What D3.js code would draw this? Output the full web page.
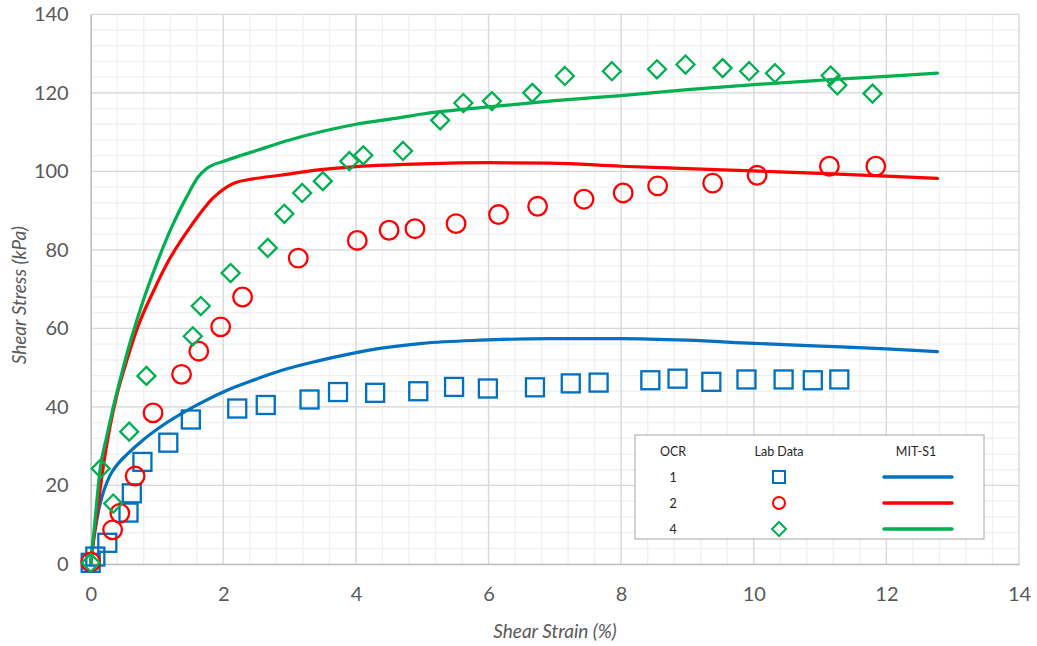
<!DOCTYPE html>
<html><head><meta charset="utf-8">
<script src="https://cdn.jsdelivr.net/npm/d3@7"></script>
<style>
html,body{margin:0;padding:0;background:#fff;}
text{font-family:Lato,"Open Sans",sans-serif;}
</style></head>
<body>
<svg id="chart" width="1037" height="646"></svg>
<script>
// ---- Data ----
const xTicks = [0, 2, 4, 6, 8, 10, 12, 14];
const yTicks = [0, 20, 40, 60, 80, 100, 120, 140];
const ocrLabels = ["1", "2", "4"];
const legendHeaders = ["OCR", "Lab Data", "MIT-S1"];

// Lab data (strain %, stress kPa)
const lab1 = [[0,0.3],[0.07,1.9],[0.25,5.4],[0.57,13.1],[0.62,18],[0.78,26],[1.17,30.9],[1.51,36.8],[2.21,39.6],[2.64,40.5],[3.30,41.9],[3.73,43.8],[4.29,43.6],[4.94,44.0],[5.48,45.1],[5.99,44.7],[6.70,45.0],[7.24,46.0],[7.66,46.2],[8.44,46.8],[8.85,47.2],[9.36,46.4],[9.89,47.0],[10.45,47.0],[10.89,46.8],[11.29,47.0]];
const lab2 = [[0,0.5],[0.33,8.7],[0.44,12.9],[0.67,22.4],[0.94,38.5],[1.37,48.3],[1.63,54.2],[1.96,60.4],[2.29,68.0],[3.13,77.9],[4.02,82.4],[4.50,85.0],[4.89,85.4],[5.51,86.7],[6.15,89.0],[6.74,91.1],[7.44,92.9],[8.03,94.5],[8.55,96.3],[9.38,97.0],[10.05,99.0],[11.14,101.3],[11.84,101.3]];
const lab4 = [[0,0.3],[0.15,24.3],[0.34,15.4],[0.58,33.7],[0.84,47.9],[1.54,58.0],[1.66,65.7],[2.11,74.1],[2.67,80.5],[2.92,89.2],[3.19,94.5],[3.50,97.5],[3.90,102.6],[4.11,104.1],[4.71,105.2],[5.27,113.0],[5.62,117.4],[6.05,117.9],[6.66,120.0],[7.15,124.3],[7.86,125.5],[8.54,126.0],[8.97,127.2],[9.53,126.3],[9.93,125.5],[10.32,125.0],[11.16,124.4],[11.26,121.9],[11.79,119.8]];

// MIT-S1 model curves
const mit1 = [[0,0],[0.03,5],[0.08,10],[0.13,14.5],[0.2,18.8],[0.29,22.5],[0.4,25.3],[0.54,27.8],[0.79,31.6],[1.05,34.9],[1.55,40],[2.05,44.2],[2.45,46.8],[2.86,49.2],[3.4,51.6],[3.91,53.5],[4.36,54.9],[5.0,56.2],[5.87,57.0],[6.93,57.4],[8.0,57.4],[9.0,57.0],[10.0,56.2],[11.0,55.5],[12.0,54.8],[12.77,54.1]];
const mit2 = [[0,0],[0.1,13.5],[0.2,26],[0.29,34.9],[0.40,43.4],[0.545,51.9],[0.71,60.4],[0.93,68.9],[1.18,77.4],[1.50,85.8],[1.85,93.3],[2.05,96],[2.20,97.2],[2.45,98.1],[2.86,99],[3.4,100.3],[3.91,101.1],[5.0,101.9],[6.0,102.2],[6.93,102.1],[8.0,101.3],[9.0,100.7],[10.0,100.1],[11.0,99.5],[12.0,98.8],[12.77,98.2]];
const mit4 = [[0,0],[0.07,12],[0.14,23.9],[0.241,32.4],[0.341,40],[0.467,48.5],[0.618,57.8],[0.794,67.2],[0.995,76.5],[1.221,85.8],[1.447,93.5],[1.623,98.6],[1.749,100.7],[2.05,102.8],[2.5,105.3],[3.0,108],[3.5,110.2],[4.0,112],[4.67,113.7],[5.0,114.6],[6.0,116.4],[7.0,118],[8.0,119.3],[9.0,120.8],[10.0,122.1],[11.0,123.2],[12.0,124.2],[12.77,125]];

const colors = ["#0070C0", "#FF0000", "#00B050"];
const markerTypes = ["square", "circle", "diamond"];

// ---- Chart ----
const svg = d3.select("#chart");
const x = d3.scaleLinear().domain([0, 14]).range([90.7, 1019]);
const y = d3.scaleLinear().domain([0, 140]).range([564, 14.3]);

// minor grid
const g = svg.append("g");
const xMinor = d3.range(0, 14.001, 0.4).map(v => +v.toFixed(2));
const yMinor = d3.range(0, 140.001, 4);
g.selectAll(".xm").data(xMinor).enter().append("line")
  .attr("x1", d => x(d)).attr("x2", d => x(d)).attr("y1", y(0)).attr("y2", y(140))
  .attr("stroke", "#F0F0F0").attr("stroke-width", 1.3);
g.selectAll(".ym").data(yMinor).enter().append("line")
  .attr("y1", d => y(d)).attr("y2", d => y(d)).attr("x1", x(0)).attr("x2", x(14))
  .attr("stroke", "#F0F0F0").attr("stroke-width", 1.3);
// major grid
g.selectAll(".xM").data(xTicks.slice(1)).enter().append("line")
  .attr("x1", d => x(d)).attr("x2", d => x(d)).attr("y1", y(0)).attr("y2", y(140))
  .attr("stroke", "#D9D9D9").attr("stroke-width", 1.3);
g.selectAll(".yM").data(yTicks.slice(1)).enter().append("line")
  .attr("y1", d => y(d)).attr("y2", d => y(d)).attr("x1", x(0)).attr("x2", x(14))
  .attr("stroke", "#D9D9D9").attr("stroke-width", 1.3);

// axes
const xAxis = svg.append("g").attr("transform", `translate(0,${y(0)})`)
  .call(d3.axisBottom(x).tickValues(xTicks).tickSize(0).tickPadding(26).tickFormat(d3.format("d")));
const yAxis = svg.append("g").attr("transform", `translate(${x(0)},0)`)
  .call(d3.axisLeft(y).tickValues(yTicks).tickSize(0).tickPadding(22).tickFormat(d3.format("d")));
[xAxis, yAxis].forEach(a => {
  a.select(".domain").attr("stroke", "#BFBFBF").attr("stroke-width", 1.5);
  a.selectAll("text").attr("fill", "#595959").style("font-size", "20px").style("font-family", "Lato, 'Open Sans', sans-serif");
});
xAxis.selectAll("text").attr("dy", "0.55em");

// axis titles
svg.append("text").attr("x", 555).attr("y", 638).attr("text-anchor", "middle")
  .attr("fill", "#595959").style("font-size", "19px").style("font-style", "italic")
  .text("Shear Strain (%)");
svg.append("text").attr("transform", `translate(26,${(y(0)+y(140))/2 + 6}) rotate(-90)`)
  .attr("text-anchor", "middle").attr("fill", "#595959").style("font-size", "19px").style("font-style", "italic")
  .text("Shear Stress (kPa)");

// model lines
const line = d3.line().x(d => x(d[0])).y(d => y(d[1])).curve(d3.curveMonotoneX);
[mit1, mit2, mit4].forEach((s, i) => {
  svg.append("path").datum(s).attr("d", line).attr("fill", "none")
    .attr("stroke", colors[i]).attr("stroke-width", 3.2).attr("stroke-linecap", "round");
});

// markers
function drawMarker(sel, type, color) {
  if (type === "square") {
    sel.append("rect").attr("x", -9).attr("y", -9).attr("width", 18).attr("height", 18)
      .attr("fill", "none").attr("stroke", color).attr("stroke-width", 2.3);
  } else if (type === "circle") {
    sel.append("circle").attr("r", 9.3).attr("fill", "none").attr("stroke", color).attr("stroke-width", 2.3);
  } else {
    sel.append("path").attr("d", "M0,-9L9,0L0,9L-9,0Z").attr("fill", "none")
      .attr("stroke", color).attr("stroke-width", 2.3);
  }
}
[lab1, lab2, lab4].forEach((s, i) => {
  svg.append("g").selectAll("g").data(s).enter().append("g")
    .attr("transform", d => `translate(${x(d[0])},${y(d[1])})`)
    .each(function() { drawMarker(d3.select(this), markerTypes[i], colors[i]); });
});

// legend
const lg = svg.append("g");
lg.append("rect").attr("x", 635).attr("y", 435).attr("width", 349).attr("height", 104)
  .attr("fill", "#fff").attr("stroke", "#A6A6A6").attr("stroke-width", 1);
const colX = [673, 779, 916];
legendHeaders.forEach((h, i) => {
  lg.append("text").attr("x", colX[i]).attr("y", 455.5).attr("text-anchor", "middle")
    .attr("fill", "#262626").style("font-size", "12.5px").text(h);
});
ocrLabels.forEach((o, i) => {
  const ry = 477 + i * 26;
  lg.append("text").attr("x", colX[0]).attr("y", ry + 4.5).attr("text-anchor", "middle")
    .attr("fill", "#262626").style("font-size", "12.5px").text(o);
  const m = lg.append("g").attr("transform", `translate(${colX[1]},${ry})`);
  if (markerTypes[i] === "square") {
    m.append("rect").attr("x", -6).attr("y", -6).attr("width", 12).attr("height", 12)
      .attr("fill", "none").attr("stroke", colors[i]).attr("stroke-width", 2);
  } else if (markerTypes[i] === "circle") {
    m.append("circle").attr("r", 6).attr("fill", "none").attr("stroke", colors[i]).attr("stroke-width", 2);
  } else {
    m.append("path").attr("d", "M0,-7L7,0L0,7L-7,0Z").attr("fill", "none").attr("stroke", colors[i]).attr("stroke-width", 2);
  }
  lg.append("line").attr("x1", 884).attr("x2", 952).attr("y1", ry).attr("y2", ry)
    .attr("stroke", colors[i]).attr("stroke-width", 3.5).attr("stroke-linecap", "round");
});
</script>
</body></html>
